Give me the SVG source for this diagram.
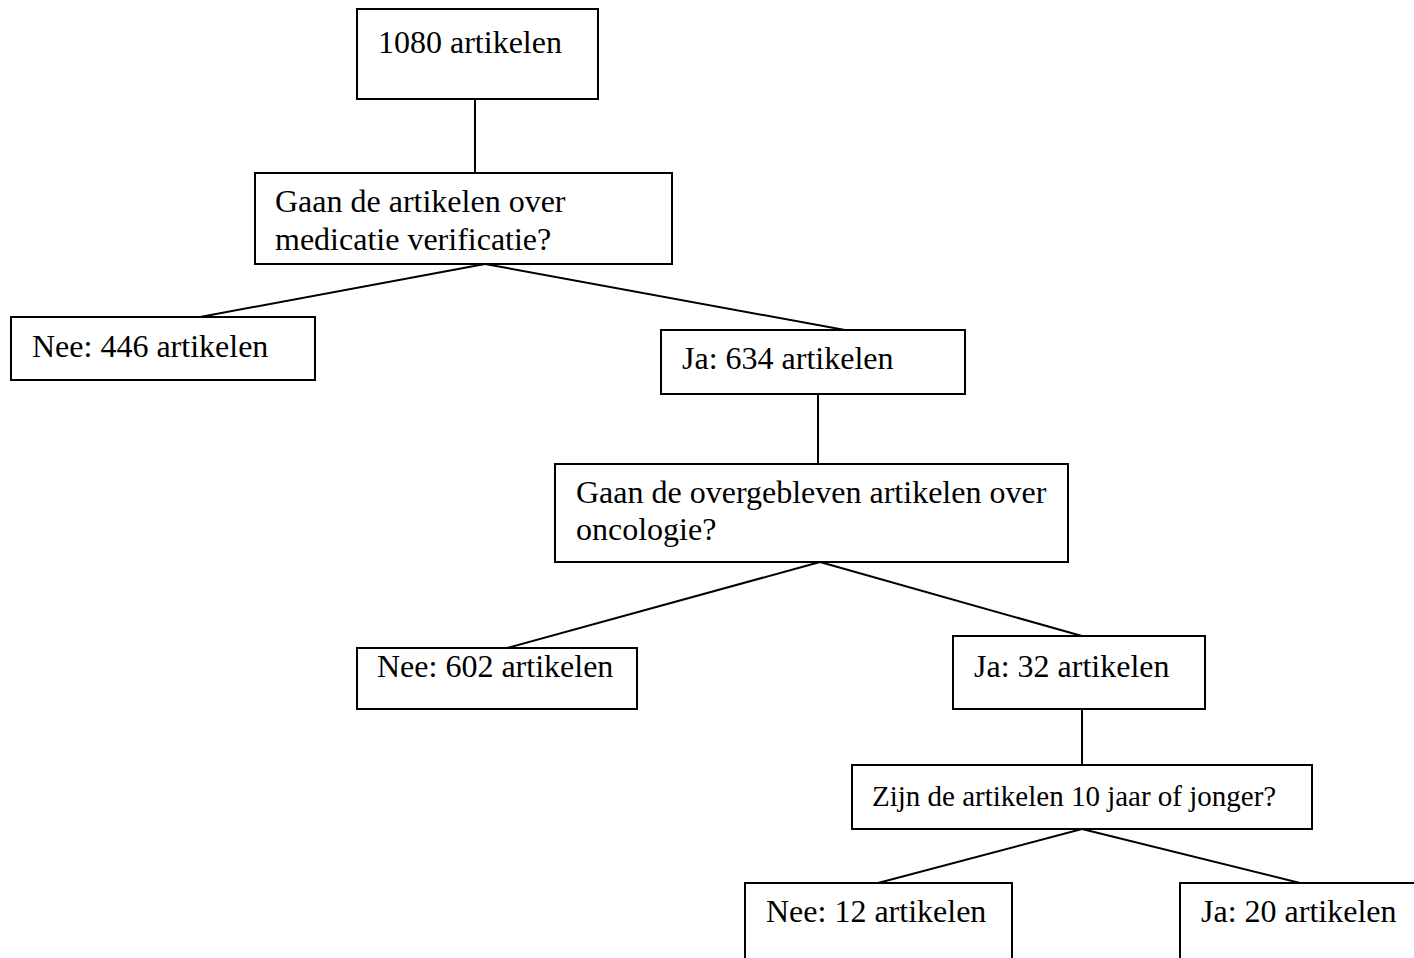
<svg xmlns="http://www.w3.org/2000/svg" width="1414" height="958" viewBox="0 0 1414 958">
<style>
rect{fill:#fff;stroke:#000;stroke-width:2}
line{stroke:#000;stroke-width:2}
text{font-family:"Liberation Serif","Times New Roman",serif;font-size:32px;fill:#000}
.s{font-size:29px}
</style>
<rect x="0" y="0" width="1414" height="958" style="stroke:none"/>
<g id="connectors">
<line x1="475" y1="99" x2="475" y2="173"/>
<line x1="485" y1="264" x2="200" y2="317"/>
<line x1="485" y1="264" x2="845" y2="330"/>
<line x1="818" y1="394" x2="818" y2="464"/>
<line x1="820" y1="562" x2="507" y2="648"/>
<line x1="820" y1="562" x2="1082" y2="636"/>
<line x1="1082" y1="709" x2="1082" y2="765"/>
<line x1="1082" y1="829" x2="878" y2="883"/>
<line x1="1082" y1="829" x2="1300" y2="883"/>
</g>
<g id="n1080"><rect x="357" y="9" width="241" height="90"/><text x="378" y="53">1080 artikelen</text></g>
<g id="q1"><rect x="255" y="173" width="417" height="91"/><text x="275" y="212">Gaan de artikelen over</text><text x="275" y="250">medicatie verificatie?</text></g>
<g id="nee446"><rect x="11" y="317" width="304" height="63"/><text x="32" y="357">Nee: 446 artikelen</text></g>
<g id="ja634"><rect x="661" y="330" width="304" height="64"/><text x="682" y="369">Ja: 634 artikelen</text></g>
<g id="q2"><rect x="555" y="464" width="513" height="98"/><text x="576" y="503">Gaan de overgebleven artikelen over</text><text x="576" y="540">oncologie?</text></g>
<g id="nee602"><rect x="357" y="648" width="280" height="61"/><text x="377" y="677">Nee: 602 artikelen</text></g>
<g id="ja32"><rect x="953" y="636" width="252" height="73"/><text x="974" y="677">Ja: 32 artikelen</text></g>
<g id="q3"><rect x="852" y="765" width="460" height="64"/><text class="s" x="872" y="806">Zijn de artikelen 10 jaar of jonger?</text></g>
<g id="nee12"><rect x="745" y="883" width="267" height="90"/><text x="766" y="922">Nee: 12 artikelen</text></g>
<g id="ja20"><rect x="1180" y="883" width="250" height="90"/><text x="1201" y="922">Ja: 20 artikelen</text></g>
</svg>
